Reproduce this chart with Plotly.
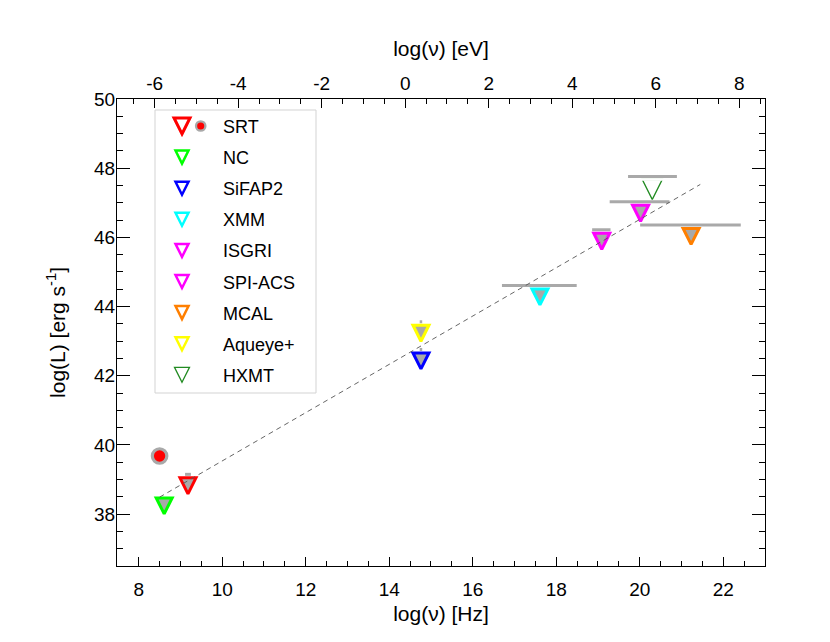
import plotly.graph_objects as go

# ---------------- data ----------------
instruments = ["SRT", "NC", "SiFAP2", "XMM", "ISGRI", "SPI-ACS", "MCAL", "Aqueye+", "HXMT"]
colors = ["#FF0000", "#00FF00", "#0000FF", "#00FFFF", "#FF00FF", "#FF00FF", "#FF7F00", "#FFFF00", "#228B22"]
log_nu = [9.18, 8.61, 14.76, 17.61, 19.09, 20.02, 21.23, 14.76, 20.30]
log_L = [39.15, 38.57, 42.76, 44.61, 46.22, 47.03, 46.36, 43.56, 47.76]
band_lo = [9.11, None, 14.73, 16.70, 18.86, 19.28, 20.01, 14.73, 19.72]
band_hi = [9.25, None, 14.79, 18.49, 19.30, 20.71, 22.42, 14.79, 20.89]

srt_dot_nu = [8.50]
srt_dot_L = [39.68]

fit_nu = [8.50, 21.45]
fit_L = [38.49, 47.53]

x_ticks_hz = [8, 10, 12, 14, 16, 18, 20, 22]
x_ticks_ev = [-6, -4, -2, 0, 2, 4, 6, 8]
x_ticktext_ev = ["-6", "-4", "-2", "0", "2", "4", "6", "8"]
y_ticks = [38, 40, 42, 44, 46, 48, 50]

HZ_PER_EV = 14.3835  # log10(e/h)
x_range = [7.48, 23.0]
y_range = [36.5, 50.0]

FONT = "Liberation Sans, Arial, Helvetica, sans-serif"
GRAY = "#A9A9A9"

# page offset of the figure (default body margin) and plot-area geometry
OFF = 8
ML, MR, MT, MB = 117 - OFF, 65 + OFF, 99 - OFF, 76 + OFF
PW, PH = 830 - ML - MR, 642 - MT - MB
PLOT_LEFT, PLOT_BOTTOM = ML + OFF, OFF + 642 - MB  # screen pixels


def px(xs):
    return (xs - PLOT_LEFT) / PW


def py(ys):
    return (PLOT_BOTTOM - ys) / PH


fig = go.Figure()

# gray bandwidth bars
bx, by = [], []
for lo, hi, L in zip(band_lo, band_hi, log_L):
    if lo is None:
        continue
    bx += [lo, hi, None]
    by += [L, L, None]
fig.add_trace(go.Scatter(x=bx, y=by, mode="lines", line=dict(color=GRAY, width=3),
                         showlegend=False, hoverinfo="skip"))

# SRT detection dot
fig.add_trace(go.Scatter(x=srt_dot_nu, y=srt_dot_L, mode="markers",
                         marker=dict(symbol="circle", size=14.5, color="#FF0000",
                                     line=dict(color=GRAY, width=3.2)),
                         showlegend=False, hoverinfo="skip"))

# upper-limit triangles
for name, c, nu, L in zip(instruments, colors, log_nu, log_L):
    if name == "HXMT":
        fig.add_trace(go.Scatter(x=[nu], y=[L], mode="markers",
                                 marker=dict(symbol="arrow-down-open", size=20, color=c,
                                             line=dict(color=c, width=1.4), standoff=23),
                                 showlegend=False, hoverinfo="skip"))
        fig.add_trace(go.Scatter(x=[nu], y=[L], mode="markers",
                                 marker=dict(symbol="line-ew-open", size=17, color="white",
                                             line=dict(color="white", width=2.6), standoff=3),
                                 showlegend=False, hoverinfo="skip"))
    else:
        fig.add_trace(go.Scatter(x=[nu], y=[L], mode="markers",
                                 marker=dict(symbol="arrow-down", size=16, color=GRAY,
                                             line=dict(color=c, width=3), standoff=19.5),
                                 showlegend=False, hoverinfo="skip"))

# fit line
fig.add_trace(go.Scatter(x=fit_nu, y=fit_L, mode="lines",
                         line=dict(color="#555555", width=0.9, dash="5px,4px"),
                         showlegend=False, hoverinfo="skip"))

# top-axis carrier
fig.add_trace(go.Scatter(x=[None], y=[None], xaxis="x2", showlegend=False, hoverinfo="skip"))

# legend entries (legend applies standoff upward, so use arrow-up rotated 180deg)
for name, c in zip(instruments, colors):
    if name == "SRT":
        s, w = 16, 3
    elif name == "HXMT":
        s, w = 15, 1.3
    else:
        s, w = 13, 2.5
    fig.add_trace(go.Scatter(x=[None], y=[None], mode="markers", name=name, legendgroup=name,
                             marker=dict(symbol="arrow-up-open", size=s, color=c, angle=180,
                                         line=dict(color=c, width=w), standoff=s / 2)))

axis_common = dict(showline=True, linecolor="black", linewidth=1.2, showgrid=False, zeroline=False,
                   ticks="inside", tickcolor="black", tickwidth=1.2, automargin=False,
                   tickfont=dict(family=FONT, size=19, color="black"))

# legend decorations: box and the SRT detection dot glyph
dot_cx, dot_cy, dot_r = 200.7, 126, 4.7
shapes = [
    dict(type="rect", xref="paper", yref="paper",
         x0=px(155), x1=px(316), y0=py(393), y1=py(110),
         line=dict(color="#D3D3D3", width=1), fillcolor="white", layer="below"),
    dict(type="circle", xref="paper", yref="paper",
         x0=px(dot_cx - dot_r), x1=px(dot_cx + dot_r), y0=py(dot_cy + dot_r), y1=py(dot_cy - dot_r),
         line=dict(color=GRAY, width=2.3), fillcolor="#FF0000", layer="above"),
]

fig.update_layout(
    width=830, height=642, autosize=False,
    margin=dict(l=ML, r=MR, t=MT, b=MB, autoexpand=False),
    paper_bgcolor="white", plot_bgcolor="white",
    hovermode=False,
    font=dict(family=FONT, color="black"),
    xaxis=dict(range=x_range, tickvals=x_ticks_hz, ticklen=9, mirror=False, ticklabelstandoff=6,
               minor=dict(ticks="inside", dtick=0.5, tick0=8, ticklen=4.5, tickwidth=1.2,
                          tickcolor="black", showgrid=False),
               title=dict(text="log(ν) [Hz]", font=dict(family=FONT, size=21), standoff=7),
               **axis_common),
    xaxis2=dict(range=[x_range[0] - HZ_PER_EV, x_range[1] - HZ_PER_EV], overlaying="x", side="top",
                anchor="y", tickvals=x_ticks_ev, ticktext=x_ticktext_ev, ticklen=9,
                minor=dict(ticks="inside", dtick=0.5, tick0=0, ticklen=4.5, tickwidth=1.2,
                           tickcolor="black", showgrid=False),
                title=dict(text="log(ν) [eV]", font=dict(family=FONT, size=21), standoff=10),
                **axis_common),
    yaxis=dict(range=y_range, tickvals=y_ticks, ticklen=12.5, mirror="ticks", ticklabelstandoff=-3,
               minor=dict(ticks="inside", dtick=0.5, tick0=38, ticklen=6, tickwidth=1.2,
                          tickcolor="black", showgrid=False),
               title=dict(text="log(L) [erg s<sup>-1</sup>]", font=dict(family=FONT, size=21), standoff=22),
               **axis_common),
    legend=dict(x=px(141), y=py(107.8), xanchor="left", yanchor="top",
                bgcolor="rgba(0,0,0,0)", borderwidth=0, itemwidth=72,
                font=dict(family=FONT, size=18, color="black"),
                traceorder="grouped", tracegroupgap=4.7),
    shapes=shapes,
)

fig.write_html("out.html")
